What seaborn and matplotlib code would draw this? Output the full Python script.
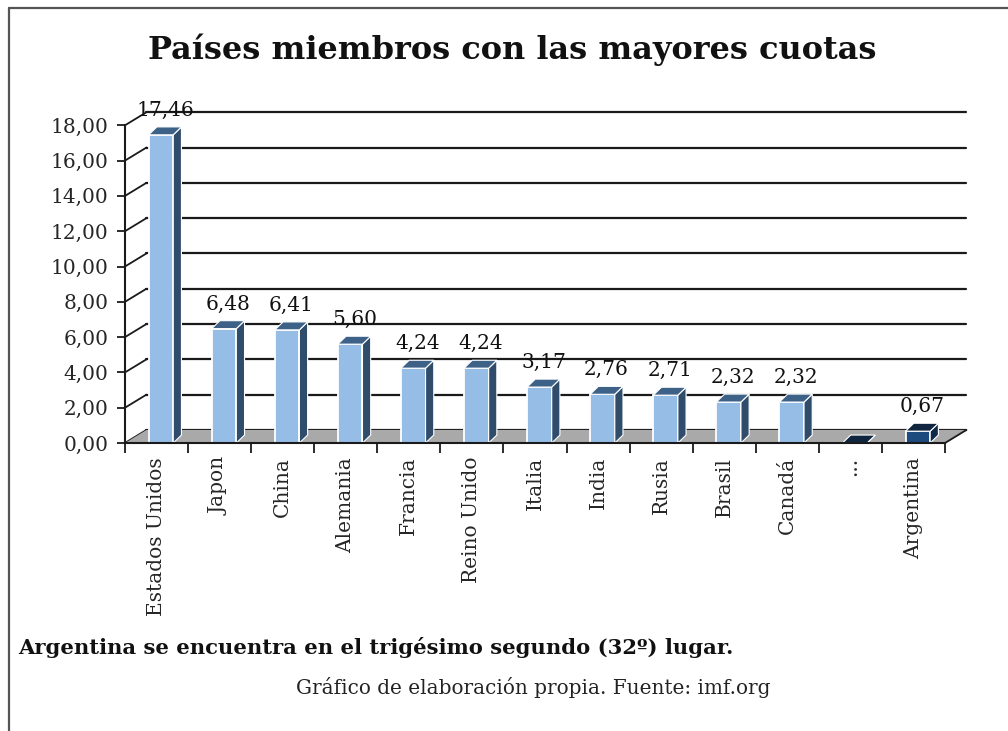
import numpy as np
import pandas as pd
import seaborn as sns
import matplotlib.pyplot as plt
from matplotlib.patches import Polygon
from matplotlib.lines import Line2D

# Datos: cuotas (%) de los mayores países miembros del FMI
paises = ["Estados Unidos", "Japon", "China", "Alemania", "Francia", "Reino Unido",
          "Italia", "India", "Rusia", "Brasil", "Canadá", "...", "Argentina"]
cuotas = [17.46, 6.48, 6.41, 5.60, 4.24, 4.24, 3.17, 2.76, 2.71, 2.32, 2.32, 0.0, 0.67]
destacados = ["...", "Argentina"]
yticks = [0, 2, 4, 6, 8, 10, 12, 14, 16, 18]

sns.set_style("white")
plt.rcParams['font.family'] = ['DejaVu Serif']

df = pd.DataFrame({"pais": paises, "cuota": cuotas})
colores = {p: ("#1e4b7e" if p in destacados else "#95bde6") for p in paises}

fig = plt.figure(figsize=(10.08, 7.31), dpi=100)
ax = fig.add_axes([125 / 1008, 1 - 443 / 731, 820 / 1008, 353 / 731])

sns.barplot(data=df, x="pais", y="cuota", hue="pais", palette=colores, width=0.39,
            edgecolor="white", linewidth=1.3, ax=ax, zorder=4, legend=False, saturation=1)

ax.set_xlim(-0.5, 12.5)
ax.set_ylim(0, 20)

# efecto 3D: desplazamiento de la pared del fondo y profundidad de las barras
dx, dy = 0.34, 0.74
ds, dsy = 0.13, 0.45

# suelo
suelo = Polygon([(-0.5, 0), (12.5, 0), (12.5 + dx, dy), (-0.5 + dx, dy)],
                closed=True, facecolor="#a9a9a9", edgecolor="none", zorder=2, clip_on=False)
ax.add_patch(suelo)

# lineas de la cuadricula en la pared del fondo
for v in yticks:
    ax.plot([-0.5 + dx, 12.5 + dx], [v + dy, v + dy], color="#1a1a1a", lw=1.6,
            zorder=1, clip_on=False)
    ax.plot([-0.5, -0.5 + dx], [v, v + dy], color="#1a1a1a", lw=1.3, zorder=1, clip_on=False)
ax.plot([12.5, 12.5 + dx], [0, dy], color="#1a1a1a", lw=1.3, zorder=3, clip_on=False)

# caras laterales, tapas y etiquetas
for p in list(ax.patches):
    if p is suelo:
        continue
    w = p.get_width()
    x0 = p.get_x() + 0.07
    p.set_x(x0)
    h = p.get_height()
    i = int(round(x0 + w / 2 - 0.07))
    oscuro = paises[i] in destacados
    lado = "#0f2a48" if oscuro else "#2f4d6b"
    tapa = "#102640" if oscuro else "#3e6188"
    x1 = x0 + w
    ax.add_patch(Polygon([(x1, 0), (x1, h), (x1 + ds, h + dsy), (x1 + ds, dsy)],
                         closed=True, facecolor=lado, edgecolor="white", lw=0.8, zorder=4))
    ax.add_patch(Polygon([(x0, h), (x1, h), (x1 + ds, h + dsy), (x0 + ds, h + dsy)],
                         closed=True, facecolor=tapa, edgecolor="white", lw=0.8, zorder=4))
    if cuotas[i] > 0:
        ax.annotate(f"{cuotas[i]:.2f}".replace(".", ","), (x0 + (w + ds) / 2, h + dsy),
                    xytext=(0, 5), textcoords="offset points", ha="center", va="bottom",
                    fontsize=14.5, color="#111111", zorder=6)

# ejes
sns.despine(ax=ax, top=True, right=True)
ax.spines["left"].set_bounds(0, 18)
for s in ("left", "bottom"):
    ax.spines[s].set_color("#1a1a1a")
    ax.spines[s].set_linewidth(1.5)
    ax.spines[s].set_zorder(5)

ax.set_yticks(yticks)
ax.set_yticklabels([f"{v:.2f}".replace(".", ",") for v in yticks], fontsize=14.5)
ax.tick_params(axis="y", left=True, length=6, width=1.3, color="#1a1a1a", pad=6)

ax.set_xticks(range(len(paises)))
ax.set_xticklabels(paises, rotation=90, fontsize=14.5, va="top")
ax.set_xticks(np.arange(-0.5, 13, 1), minor=True)
ax.tick_params(axis="x", which="major", length=0, pad=10)
ax.tick_params(axis="x", which="minor", bottom=True, length=7, width=1.3, color="#1a1a1a")
ax.set_xlabel("")
ax.set_ylabel("")

fig.text(0.508, 0.932, "Países miembros con las mayores cuotas", ha="center", va="center",
         fontsize=23, fontweight="bold", color="#111111")
fig.text(18 / 1008, 1 - 648 / 731, "Argentina se encuentra en el trigésimo segundo (32º) lugar.",
         ha="left", va="center", fontsize=15.2, fontweight="bold", color="#111111")
fig.text(533 / 1008, 1 - 688 / 731, "Gráfico de elaboración propia. Fuente: imf.org",
         ha="center", va="center", fontsize=14.4, color="#222222")

# marco de la imagen
fig.add_artist(Line2D([9 / 1008, 9 / 1008], [0, 1 - 8 / 731], color="#555555", lw=1.6))
fig.add_artist(Line2D([9 / 1008, 1], [1 - 8 / 731, 1 - 8 / 731], color="#555555", lw=1.6))

fig.savefig("out.png", dpi=100)
